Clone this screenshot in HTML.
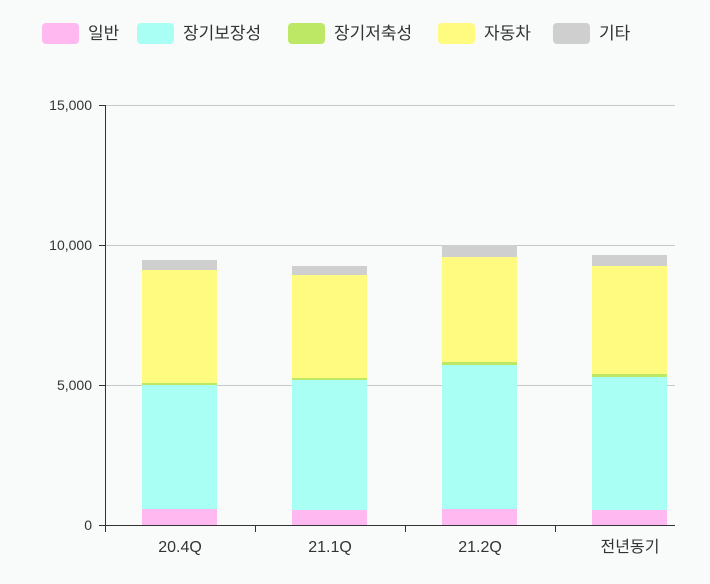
<!DOCTYPE html>
<html><head><meta charset="utf-8"><style>
body{margin:0;background:#f9fbfb;}
svg{display:block;font-family:"Liberation Sans","Noto Sans CJK KR",sans-serif;}
</style></head><body>
<svg width="710" height="584" viewBox="0 0 710 584">
<rect width="710" height="584" fill="#f9fbfb"/>
<g font-size="17" fill="#333">
<rect x="42" y="23" width="37" height="21" rx="4" fill="#ffb8f0"/><text x="88" y="39">일반</text>
<rect x="137" y="23" width="37" height="21" rx="4" fill="#aafff5"/><text x="183" y="39">장기보장성</text>
<rect x="288" y="23" width="37" height="21" rx="4" fill="#bde866"/><text x="334" y="39">장기저축성</text>
<rect x="438" y="23" width="37" height="21" rx="4" fill="#fffa80"/><text x="484" y="39">자동차</text>
<rect x="553" y="23" width="37" height="21" rx="4" fill="#cfcfcf"/><text x="599" y="39">기타</text>
</g>
<g stroke="#c8c8c8" stroke-width="1">
<line x1="105" y1="105.5" x2="675" y2="105.5"/>
<line x1="105" y1="245.5" x2="675" y2="245.5"/>
<line x1="105" y1="385.5" x2="675" y2="385.5"/>
</g>
<g>
<rect x="142" y="509" width="75" height="16" fill="#ffb8f0"/>
<rect x="142" y="385" width="75" height="124" fill="#aafff5"/>
<rect x="142" y="383" width="75" height="2" fill="#bde866"/>
<rect x="142" y="270" width="75" height="113" fill="#fffa80"/>
<rect x="142" y="260" width="75" height="10" fill="#cfcfcf"/>

<rect x="292" y="510" width="75" height="15" fill="#ffb8f0"/>
<rect x="292" y="380" width="75" height="130" fill="#aafff5"/>
<rect x="292" y="378" width="75" height="2" fill="#bde866"/>
<rect x="292" y="275" width="75" height="103" fill="#fffa80"/>
<rect x="292" y="266" width="75" height="9" fill="#cfcfcf"/>

<rect x="442" y="509" width="75" height="16" fill="#ffb8f0"/>
<rect x="442" y="365" width="75" height="144" fill="#aafff5"/>
<rect x="442" y="362" width="75" height="3" fill="#bde866"/>
<rect x="442" y="257" width="75" height="105" fill="#fffa80"/>
<rect x="442" y="245" width="75" height="12" fill="#cfcfcf"/>

<rect x="592" y="510" width="75" height="15" fill="#ffb8f0"/>
<rect x="592" y="377" width="75" height="133" fill="#aafff5"/>
<rect x="592" y="374" width="75" height="3" fill="#bde866"/>
<rect x="592" y="266" width="75" height="108" fill="#fffa80"/>
<rect x="592" y="255" width="75" height="11" fill="#cfcfcf"/>
</g>
<g stroke="#333" stroke-width="1">
<line x1="105.5" y1="105" x2="105.5" y2="526"/>
<line x1="105" y1="525.5" x2="675" y2="525.5"/>
<line x1="99" y1="105.5" x2="105" y2="105.5"/>
<line x1="99" y1="245.5" x2="105" y2="245.5"/>
<line x1="99" y1="385.5" x2="105" y2="385.5"/>
<line x1="99" y1="525.5" x2="105" y2="525.5"/>
<line x1="105.5" y1="525" x2="105.5" y2="532"/>
<line x1="255.5" y1="525" x2="255.5" y2="532"/>
<line x1="405.5" y1="525" x2="405.5" y2="532"/>
<line x1="555.5" y1="525" x2="555.5" y2="532"/>
</g>
<g font-size="14" fill="#333" text-anchor="end">
<text x="92" y="110">15,000</text>
<text x="92" y="250">10,000</text>
<text x="92" y="390">5,000</text>
<text x="92" y="530">0</text>
</g>
<g font-size="16" fill="#333" text-anchor="middle">
<text x="180" y="552">20.4Q</text>
<text x="330" y="552">21.1Q</text>
<text x="480" y="552">21.2Q</text>
<text x="630" y="552">전년동기</text>
</g>
</svg>
</body></html>
